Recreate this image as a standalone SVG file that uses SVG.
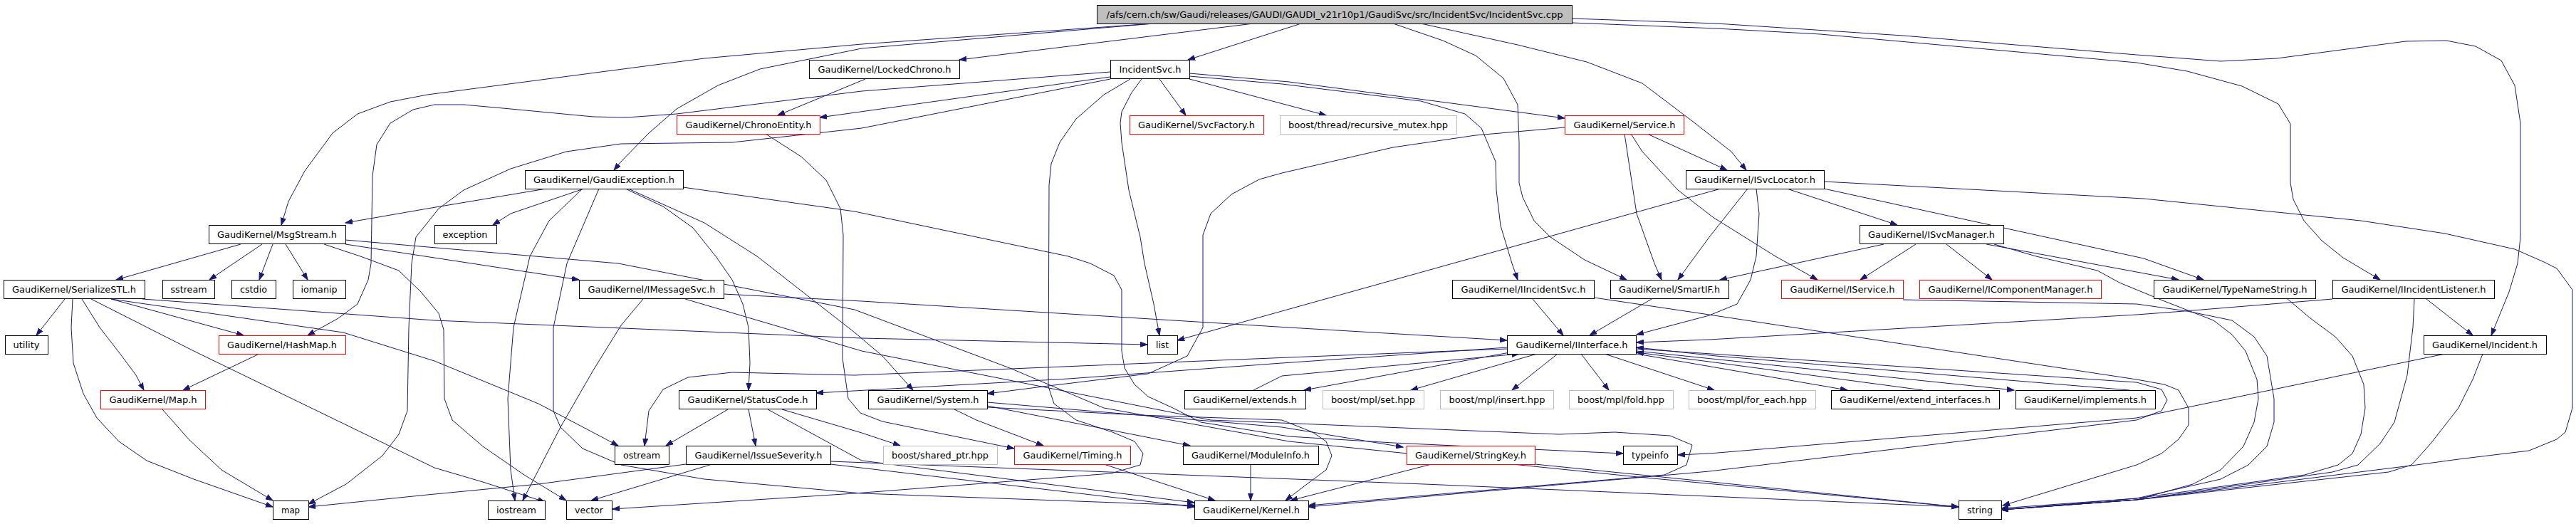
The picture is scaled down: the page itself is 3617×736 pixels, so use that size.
<svg xmlns="http://www.w3.org/2000/svg" width="3617" height="736" viewBox="0 0 3617 736">
<style>
.n rect{fill:#fff;stroke:#000;stroke-width:1}
.n.r rect{stroke:#ff0000}
.n.g rect{stroke:#bfbfbf}
.n.root rect{fill:#bfbfbf}
.n text{font-family:"DejaVu Sans","Liberation Sans",sans-serif;font-size:13px;fill:#000;text-anchor:middle}
#edges path{fill:none;stroke:#191970;stroke-width:1;marker-end:url(#ah)}
</style>
<defs>
<marker id="ah" markerUnits="userSpaceOnUse" markerWidth="11" markerHeight="8" refX="10" refY="4" orient="auto"><path d="M0,0.5 L10,4 L0,7.5 z" fill="#191970" stroke="#191970"/></marker>
</defs>
<rect width="3617" height="736" fill="#fff"/>
<g id="edges">
<path d="M1760,33 L1347,84"/>
<path d="M1620,33 L1210,62 L989,82 L600,133 L548,143 L502,160 L467,187 L428,240 L405,283 L395,316"/>
<path d="M1620,33 L1210,68 L1067,97 L1008,120 L950,153 L911,187 L872,227 L862,239"/>
<path d="M1827,33 L1668,84"/>
<path d="M1956,33 L2026,57 L2072,78 L2111,110 L2131,147 L2133,200 L2133,257 L2138,277 L2154,310 L2177,333 L2225,365 L2284,393"/>
<path d="M1995,33 L2131,63 L2228,87 L2306,117 L2376,170 L2431,213 L2452,239"/>
<path d="M2207,26 L2410,33 L2672,50 L3000,77 L3118,86 L3197,82 L3378,58 L3435,57 L3476,65 L3512,85 L3531,120 L3539,173 L3539,333 L3535,370 L3523,410 L3498,471"/>
<path d="M2207,32 L2410,40 L2556,48 L3000,88 L3071,100 L3148,121 L3199,146 L3216,174 L3216,257 L3220,280 L3235,310 L3260,338 L3290,362 L3342,393"/>
<path d="M1559,101 L1210,128 L950,160 L880,165 L833,164 L717,153 L651,147 L610,147 L580,154 L548,173 L529,203 L523,247 L521,370 L517,393 L502,427 L475,447 L432,471"/>
<path d="M1559,108 L1151,165"/>
<path d="M1559,111 L1210,180 L1028,200 L872,202 L795,213 L717,237 L651,267 L616,293 L600,313 L584,333 L578,370 L574,460 L572,577 L560,610 L537,640 L486,680 L433,708"/>
<path d="M1603,111 L1589,130 L1575,157 L1573,173 L1575,200 L1585,267 L1601,333 L1607,370 L1620,427 L1628,471"/>
<path d="M1587,111 L1550,133 L1511,167 L1488,200 L1476,230 L1473,260 L1472,543 L1480,567 L1511,590 L1562,607 L1593,620 L1605,637 L1601,653 L1560,665 L1200,693 L860,715"/>
<path d="M1628,111 L1665,162"/>
<path d="M1670,111 L1862,162"/>
<path d="M1670,103 L1810,115 L2197,166"/>
<path d="M1670,107 L1800,118 L1995,142 L2057,160 L2080,180 L2100,227 L2101,267 L2107,317 L2123,370 L2131,393"/>
<path d="M1215,111 L1092,162"/>
<path d="M1075,188 L1125,220 L1160,253 L1180,293 L1184,330 L1183,503 L1191,560 L1208,580 L1239,592 L1424,630"/>
<path d="M2313,188 L2425,239"/>
<path d="M2281,188 L2298,300 L2323,370 L2333,393"/>
<path d="M2290,188 L2306,213 L2356,267 L2405,305 L2493,360 L2552,393"/>
<path d="M2197,179 L2072,190 L1956,207 L1800,243 L1768,252 L1729,273 L1700,300 L1689,330 L1689,460 L1667,500 L1612,525 L1472,542 L1386,553"/>
<path d="M767,265 L600,293 L485,313"/>
<path d="M820,265 L767,283 L717,300 L692,316"/>
<path d="M818,265 L771,310 L744,360 L721,460 L713,560 L717,660 L723,703"/>
<path d="M841,265 L796,370 L777,460 L777,577 L787,600 L818,630 L872,653 L989,673 L1210,693 L1677,710"/>
<path d="M878,265 L931,290 L973,320 L1005,360 L1028,393 L1043,427 L1051,460 L1053,510 L1051,548"/>
<path d="M882,265 L989,313 L1063,360 L1200,467 L1239,500 L1282,548"/>
<path d="M959,263 L1200,297 L1500,360 L1531,370 L1564,387 L1575,407 L1575,493 L1579,517 L1593,540 L1612,557 L1647,573 L1686,593 L1810,613 L1956,622 L2279,637"/>
<path d="M338,343 L163,393"/>
<path d="M368,343 L294,393"/>
<path d="M383,343 L364,393"/>
<path d="M401,343 L432,393"/>
<path d="M455,343 L506,360 L560,380 L591,410 L616,440 L623,463 L624,560 L635,590 L678,627 L736,667 L795,703"/>
<path d="M485,343 L813,393"/>
<path d="M485,337 L868,370 L1200,435 L1418,517 L1550,573 L1810,620 L2300,670 L2750,712"/>
<path d="M91,420 L51,471"/>
<path d="M102,420 L100,460 L103,510 L117,553 L136,587 L167,620 L206,647 L272,673 L383,712"/>
<path d="M115,420 L140,460 L171,500 L191,527 L202,548"/>
<path d="M156,420 L342,471"/>
<path d="M128,420 L272,493 L610,657 L678,677 L765,705"/>
<path d="M156,420 L482,467 L610,507 L756,567 L868,626"/>
<path d="M200,420 L610,450 L1210,475 L1611,484"/>
<path d="M364,497 L257,548"/>
<path d="M228,575 L265,617 L311,660 L383,703"/>
<path d="M963,652 L756,680 L600,695 L433,712"/>
<path d="M903,420 L872,457 L833,520 L787,600 L734,703"/>
<path d="M1016,413 L1210,423 L1810,460 L2116,478"/>
<path d="M962,420 L1210,493 L1700,590 L2189,610 L2267,607 L2345,612 L2376,625 L2368,653 L2337,667 L1837,710"/>
<path d="M2509,265 L2664,316"/>
<path d="M2561,265 L3010,363 L3094,393"/>
<path d="M2561,255 L3010,279 L3315,310 L3433,328 L3531,350 L3572,368 L3590,377 L3612,407 L3612,573 L3602,607 L3590,617 L3551,633 L3452,645 L3393,653 L3000,702 L2810,716"/>
<path d="M2466,265 L2470,300 L2466,360 L2458,393 L2439,427 L2400,443 L2298,470"/>
<path d="M2454,265 L2400,333 L2356,393"/>
<path d="M2416,265 L1653,478"/>
<path d="M2645,343 L2415,393"/>
<path d="M2690,343 L2612,393"/>
<path d="M2733,343 L2797,393"/>
<path d="M2789,343 L3000,382 L3059,393"/>
<path d="M2800,343 L2859,360 L2945,380 L2976,397 L3039,423 L3108,450 L3134,470 L3153,493 L3169,533 L3171,560 L3165,593 L3150,627 L3118,660 L3079,680 L3000,702 L2810,716"/>
<path d="M2672,421 L3000,427 L3071,437 L3134,450 L3165,473 L3183,500 L3193,560 L3193,593 L3183,627 L3157,653 L3118,673 L3000,700 L2810,714"/>
<path d="M3212,420 L3244,447 L3279,473 L3303,500 L3319,540 L3321,573 L3315,610 L3303,637 L3283,653 L3236,667 L3000,700 L2810,716"/>
<path d="M3390,420 L3388,460 L3380,527 L3362,593 L3342,623 L3311,653 L3275,663 L3000,702 L2810,716"/>
<path d="M3407,420 L3472,471"/>
<path d="M3275,420 L3067,437 L3000,442 L2400,477 L2298,481"/>
<path d="M3486,497 L3472,533 L3452,573 L3413,623 L3386,653 L3354,663 L3000,702 L2810,716"/>
<path d="M3433,497 L3000,587 L2400,637 L2356,639"/>
<path d="M2152,420 L2195,471"/>
<path d="M2238,418 L2400,442 L3000,533 L3039,540 L3059,548 L3073,573 L3073,597 L3059,617 L3035,637 L3000,653 L2812,710"/>
<path d="M2298,490 L3000,537 L3035,547 L3043,562 L3035,577 L3000,590 L2400,662 L1837,712"/>
<path d="M2319,420 L2232,471"/>
<path d="M2187,497 L2123,548"/>
<path d="M2220,497 L2259,548"/>
<path d="M2253,497 L2407,548"/>
<path d="M2158,497 L1981,548"/>
<path d="M2120,495 L1831,548"/>
<path d="M2298,497 L2594,548"/>
<path d="M2298,493 L2828,548"/>
<path d="M2990,548 L2410,500 L2298,488"/>
<path d="M2700,548 L2400,508 L2298,495"/>
<path d="M1760,548 L1800,528 L2133,497"/>
<path d="M2116,488 L1800,510 L1500,532 L1146,552"/>
<path d="M2116,490 L1810,502 L1200,527 L1028,523 L966,530 L931,547 L911,577 L905,626"/>
<path d="M1022,575 L935,626"/>
<path d="M1051,575 L1061,626"/>
<path d="M1098,575 L1210,608 L1264,626"/>
<path d="M1078,575 L1210,647 L1677,706"/>
<path d="M1340,575 L1371,590 L1465,626"/>
<path d="M1386,570 L1671,626"/>
<path d="M1386,572 L1600,583 L1800,590 L1843,607 L1862,620 L1870,640 L1862,660 L1835,680 L1805,703"/>
<path d="M1386,565 L1800,600 L1970,628"/>
<path d="M1756,652 L1756,703"/>
<path d="M1550,652 L1706,703"/>
<path d="M2010,652 L1812,703"/>
<path d="M2155,652 L2750,712"/>
<path d="M1000,652 L830,703"/>
<path d="M1166,648 L2000,680 L2750,712"/>
<path d="M1166,652 L1677,712"/>
</g>
<g id="n_root" class="n root"><rect x="1540.5" y="7.5" width="667" height="26"/><text x="1874" y="25" textLength="641" lengthAdjust="spacingAndGlyphs">/afs/cern.ch/sw/Gaudi/releases/GAUDI/GAUDI_v21r10p1/GaudiSvc/src/IncidentSvc/IncidentSvc.cpp</text></g>
<g id="n_lockedchrono" class="n"><rect x="1136.5" y="84.5" width="211" height="26"/><text x="1242" y="102" textLength="187" lengthAdjust="spacingAndGlyphs">GaudiKernel/LockedChrono.h</text></g>
<g id="n_incidentsvc_h" class="n"><rect x="1559.5" y="84.5" width="111" height="26"/><text x="1615" y="102" textLength="87" lengthAdjust="spacingAndGlyphs">IncidentSvc.h</text></g>
<g id="n_chronoentity" class="n r"><rect x="950.5" y="162.5" width="201" height="26"/><text x="1051" y="180" textLength="177" lengthAdjust="spacingAndGlyphs">GaudiKernel/ChronoEntity.h</text></g>
<g id="n_svcfactory" class="n r"><rect x="1586.5" y="162.5" width="188" height="26"/><text x="1680" y="180" textLength="164" lengthAdjust="spacingAndGlyphs">GaudiKernel/SvcFactory.h</text></g>
<g id="n_recmutex" class="n g"><rect x="1797.5" y="162.5" width="248" height="26"/><text x="1921" y="180" textLength="224" lengthAdjust="spacingAndGlyphs">boost/thread/recursive_mutex.hpp</text></g>
<g id="n_service" class="n r"><rect x="2197.5" y="162.5" width="167" height="26"/><text x="2281" y="180" textLength="143" lengthAdjust="spacingAndGlyphs">GaudiKernel/Service.h</text></g>
<g id="n_gaudiexception" class="n"><rect x="737.5" y="239.5" width="222" height="26"/><text x="848" y="257" textLength="198" lengthAdjust="spacingAndGlyphs">GaudiKernel/GaudiException.h</text></g>
<g id="n_isvclocator" class="n"><rect x="2367.5" y="239.5" width="194" height="26"/><text x="2464" y="257" textLength="170" lengthAdjust="spacingAndGlyphs">GaudiKernel/ISvcLocator.h</text></g>
<g id="n_msgstream" class="n"><rect x="293.5" y="316.5" width="192" height="26"/><text x="389" y="334" textLength="168" lengthAdjust="spacingAndGlyphs">GaudiKernel/MsgStream.h</text></g>
<g id="n_exception" class="n"><rect x="610.5" y="316.5" width="87" height="26"/><text x="653" y="334" textLength="63" lengthAdjust="spacingAndGlyphs">exception</text></g>
<g id="n_isvcmanager" class="n"><rect x="2611.5" y="316.5" width="202" height="26"/><text x="2712" y="334" textLength="178" lengthAdjust="spacingAndGlyphs">GaudiKernel/ISvcManager.h</text></g>
<g id="n_serializestl" class="n"><rect x="5.5" y="393.5" width="198" height="26"/><text x="104" y="411" textLength="174" lengthAdjust="spacingAndGlyphs">GaudiKernel/SerializeSTL.h</text></g>
<g id="n_sstream" class="n"><rect x="228.5" y="393.5" width="73" height="26"/><text x="265" y="411" textLength="51" lengthAdjust="spacingAndGlyphs">sstream</text></g>
<g id="n_cstdio" class="n"><rect x="325.5" y="393.5" width="62" height="26"/><text x="356" y="411" textLength="38" lengthAdjust="spacingAndGlyphs">cstdio</text></g>
<g id="n_iomanip" class="n"><rect x="411.5" y="393.5" width="74" height="26"/><text x="448" y="411" textLength="51" lengthAdjust="spacingAndGlyphs">iomanip</text></g>
<g id="n_imessagesvc" class="n"><rect x="813.5" y="393.5" width="203" height="26"/><text x="915" y="411" textLength="179" lengthAdjust="spacingAndGlyphs">GaudiKernel/IMessageSvc.h</text></g>
<g id="n_iincidentsvc" class="n"><rect x="2039.5" y="393.5" width="199" height="26"/><text x="2139" y="411" textLength="175" lengthAdjust="spacingAndGlyphs">GaudiKernel/IIncidentSvc.h</text></g>
<g id="n_smartif" class="n"><rect x="2261.5" y="393.5" width="166" height="26"/><text x="2344" y="411" textLength="142" lengthAdjust="spacingAndGlyphs">GaudiKernel/SmartIF.h</text></g>
<g id="n_iservice" class="n r"><rect x="2501.5" y="393.5" width="171" height="26"/><text x="2587" y="411" textLength="147" lengthAdjust="spacingAndGlyphs">GaudiKernel/IService.h</text></g>
<g id="n_icompmgr" class="n r"><rect x="2695.5" y="393.5" width="255" height="26"/><text x="2823" y="411" textLength="231" lengthAdjust="spacingAndGlyphs">GaudiKernel/IComponentManager.h</text></g>
<g id="n_typenamestring" class="n"><rect x="3024.5" y="393.5" width="227" height="26"/><text x="3138" y="411" textLength="203" lengthAdjust="spacingAndGlyphs">GaudiKernel/TypeNameString.h</text></g>
<g id="n_iincidentlistener" class="n"><rect x="3275.5" y="393.5" width="227" height="26"/><text x="3389" y="411" textLength="203" lengthAdjust="spacingAndGlyphs">GaudiKernel/IIncidentListener.h</text></g>
<g id="n_utility" class="n"><rect x="7.5" y="471.5" width="60" height="26"/><text x="37" y="489" textLength="37" lengthAdjust="spacingAndGlyphs">utility</text></g>
<g id="n_hashmap" class="n r"><rect x="307.5" y="471.5" width="178" height="26"/><text x="396" y="489" textLength="154" lengthAdjust="spacingAndGlyphs">GaudiKernel/HashMap.h</text></g>
<g id="n_list" class="n"><rect x="1611.5" y="471.5" width="42" height="26"/><text x="1632" y="489" textLength="18" lengthAdjust="spacingAndGlyphs">list</text></g>
<g id="n_iinterface" class="n"><rect x="2116.5" y="471.5" width="181" height="26"/><text x="2207" y="489" textLength="157" lengthAdjust="spacingAndGlyphs">GaudiKernel/IInterface.h</text></g>
<g id="n_incident" class="n"><rect x="3403.5" y="471.5" width="172" height="26"/><text x="3489" y="489" textLength="148" lengthAdjust="spacingAndGlyphs">GaudiKernel/Incident.h</text></g>
<g id="n_maph" class="n r"><rect x="141.5" y="548.5" width="147" height="26"/><text x="215" y="566" textLength="123" lengthAdjust="spacingAndGlyphs">GaudiKernel/Map.h</text></g>
<g id="n_statuscode" class="n"><rect x="953.5" y="548.5" width="193" height="26"/><text x="1050" y="566" textLength="169" lengthAdjust="spacingAndGlyphs">GaudiKernel/StatusCode.h</text></g>
<g id="n_system" class="n"><rect x="1219.5" y="548.5" width="167" height="26"/><text x="1303" y="566" textLength="143" lengthAdjust="spacingAndGlyphs">GaudiKernel/System.h</text></g>
<g id="n_extends" class="n"><rect x="1663.5" y="548.5" width="170" height="26"/><text x="1748" y="566" textLength="146" lengthAdjust="spacingAndGlyphs">GaudiKernel/extends.h</text></g>
<g id="n_set" class="n g"><rect x="1857.5" y="548.5" width="142" height="26"/><text x="1928" y="566" textLength="118" lengthAdjust="spacingAndGlyphs">boost/mpl/set.hpp</text></g>
<g id="n_insert" class="n g"><rect x="2022.5" y="548.5" width="159" height="26"/><text x="2102" y="566" textLength="135" lengthAdjust="spacingAndGlyphs">boost/mpl/insert.hpp</text></g>
<g id="n_fold" class="n g"><rect x="2203.5" y="548.5" width="146" height="26"/><text x="2276" y="566" textLength="122" lengthAdjust="spacingAndGlyphs">boost/mpl/fold.hpp</text></g>
<g id="n_foreach" class="n g"><rect x="2371.5" y="548.5" width="178" height="26"/><text x="2460" y="566" textLength="154" lengthAdjust="spacingAndGlyphs">boost/mpl/for_each.hpp</text></g>
<g id="n_extendif" class="n"><rect x="2571.5" y="548.5" width="236" height="26"/><text x="2689" y="566" textLength="212" lengthAdjust="spacingAndGlyphs">GaudiKernel/extend_interfaces.h</text></g>
<g id="n_implements" class="n"><rect x="2830.5" y="548.5" width="196" height="26"/><text x="2928" y="566" textLength="172" lengthAdjust="spacingAndGlyphs">GaudiKernel/implements.h</text></g>
<g id="n_ostream" class="n"><rect x="863.5" y="626.5" width="76" height="26"/><text x="901" y="644" textLength="52" lengthAdjust="spacingAndGlyphs">ostream</text></g>
<g id="n_issueseverity" class="n"><rect x="963.5" y="626.5" width="203" height="26"/><text x="1065" y="644" textLength="179" lengthAdjust="spacingAndGlyphs">GaudiKernel/IssueSeverity.h</text></g>
<g id="n_sharedptr" class="n g"><rect x="1240.5" y="626.5" width="160" height="26"/><text x="1320" y="644" textLength="136" lengthAdjust="spacingAndGlyphs">boost/shared_ptr.hpp</text></g>
<g id="n_timing" class="n r"><rect x="1424.5" y="626.5" width="163" height="26"/><text x="1506" y="644" textLength="139" lengthAdjust="spacingAndGlyphs">GaudiKernel/Timing.h</text></g>
<g id="n_moduleinfo" class="n"><rect x="1661.5" y="626.5" width="190" height="26"/><text x="1756" y="644" textLength="166" lengthAdjust="spacingAndGlyphs">GaudiKernel/ModuleInfo.h</text></g>
<g id="n_stringkey" class="n r"><rect x="1975.5" y="626.5" width="180" height="26"/><text x="2065" y="644" textLength="156" lengthAdjust="spacingAndGlyphs">GaudiKernel/StringKey.h</text></g>
<g id="n_typeinfo" class="n"><rect x="2279.5" y="626.5" width="76" height="26"/><text x="2317" y="644" textLength="52" lengthAdjust="spacingAndGlyphs">typeinfo</text></g>
<g id="n_map" class="n"><rect x="383.5" y="703.5" width="50" height="26"/><text x="408" y="721" textLength="26" lengthAdjust="spacingAndGlyphs">map</text></g>
<g id="n_iostream" class="n"><rect x="685.5" y="703.5" width="80" height="26"/><text x="725" y="721" textLength="56" lengthAdjust="spacingAndGlyphs">iostream</text></g>
<g id="n_vector" class="n"><rect x="795.5" y="703.5" width="64" height="26"/><text x="827" y="721" textLength="40" lengthAdjust="spacingAndGlyphs">vector</text></g>
<g id="n_kernel" class="n"><rect x="1677.5" y="703.5" width="160" height="26"/><text x="1757" y="721" textLength="136" lengthAdjust="spacingAndGlyphs">GaudiKernel/Kernel.h</text></g>
<g id="n_string" class="n"><rect x="2750.5" y="703.5" width="60" height="26"/><text x="2780" y="721" textLength="36" lengthAdjust="spacingAndGlyphs">string</text></g>
</svg>
